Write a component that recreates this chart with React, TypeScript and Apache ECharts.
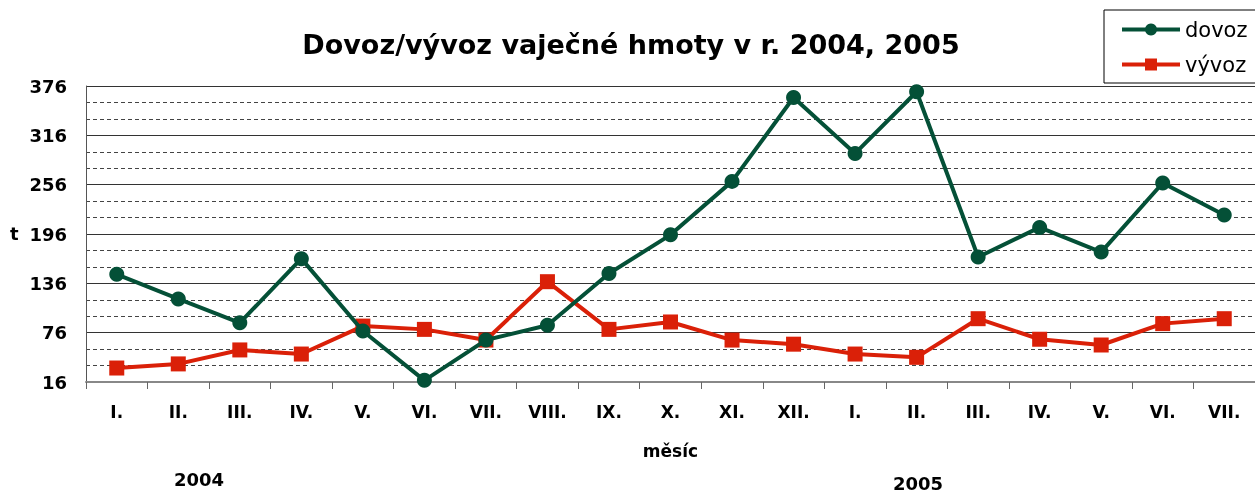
import React, { useEffect, useRef } from "react";
import * as echarts from "echarts";

const months = ["I.", "II.", "III.", "IV.", "V.", "VI.", "VII.", "VIII.", "IX.", "X.", "XI.", "XII.", "I.", "II.", "III.", "IV.", "V.", "VI.", "VII."];
const dovoz = [147, 117, 88, 166, 78, 18, 67, 85, 148, 195, 260, 362, 294, 369, 168, 204, 174, 258, 219];
const vyvoz = [33, 38, 55, 50, 84, 80, 67, 138, 80, 89, 67, 62, 50, 46, 93, 68, 61, 87, 93];
const yearLabels = ["2004", "2005"];

const FONT = "DejaVu Sans";

export default function App() {
  const ref = useRef<HTMLDivElement>(null);
  useEffect(() => {
    if (!ref.current) return;
    const chart = echarts.init(ref.current, null, { renderer: "svg" });
    chart.setOption({
      animation: false,
      textStyle: { fontFamily: FONT },
      title: {
        text: "Dovoz/vývoz vaječné hmoty v r. 2004, 2005",
        left: 626,
        textAlign: "center",
        top: 26,
        textStyle: { fontFamily: FONT, fontSize: 27, fontWeight: "bold", color: "#000" },
      },
      legend: {
        orient: "vertical",
        left: 1104,
        top: 10,
        padding: [9, 24, 8, 16],
        itemGap: 14,
        itemWidth: 58,
        itemHeight: 15,
        borderColor: "#000",
        borderWidth: 1,
        lineStyle: { width: 4 },
        textStyle: { fontFamily: FONT, fontSize: 21, color: "#000" },
        data: ["dovoz", "vývoz"],
      },
      grid: { left: 86, right: 0, top: 86, bottom: 111, containLabel: false },
      xAxis: {
        type: "category",
        data: months,
        boundaryGap: true,
        axisLine: { lineStyle: { color: "#888", width: 2 } },
        axisTick: { show: true, length: 7, interval: 0, lineStyle: { color: "#666", width: 1 } },
        axisLabel: { interval: 0, margin: 21, fontFamily: FONT, fontSize: 17, fontWeight: "bold", color: "#000" },
        name: "měsíc",
        nameLocation: "middle",
        nameGap: 60,
        nameTextStyle: { fontFamily: FONT, fontSize: 17, fontWeight: "bold", color: "#000" },
      },
      yAxis: {
        type: "value",
        min: 16,
        max: 376,
        interval: 60,
        axisLine: { show: true, lineStyle: { color: "#555", width: 1 } },
        axisTick: { show: false },
        axisLabel: { margin: 19, fontFamily: FONT, fontSize: 18, fontWeight: "bold", color: "#000" },
        splitLine: { show: true, lineStyle: { color: "#333", width: 1 } },
        minorTick: { show: false, splitNumber: 3 },
        minorSplitLine: { show: true, lineStyle: { color: "#444", width: 1, type: [4, 3] } },
      },
      graphic: [
        { type: "text", left: 10, top: 224, style: { text: "t", fontFamily: FONT, fontSize: 18, fontWeight: "bold", fill: "#000" } },
        { type: "text", left: 174, top: 470, style: { text: yearLabels[0], fontFamily: FONT, fontSize: 18, fontWeight: "bold", fill: "#000" } },
        { type: "text", left: 893, top: 474, style: { text: yearLabels[1], fontFamily: FONT, fontSize: 18, fontWeight: "bold", fill: "#000" } },
      ],
      series: [
        {
          name: "dovoz",
          type: "line",
          data: dovoz,
          symbol: "circle",
          symbolSize: 15,
          lineStyle: { color: "#045037", width: 4 },
          itemStyle: { color: "#045037" },
          z: 3,
        },
        {
          name: "vývoz",
          type: "line",
          data: vyvoz,
          symbol: "rect",
          symbolSize: 15,
          lineStyle: { color: "#da2008", width: 4 },
          itemStyle: { color: "#da2008" },
          z: 2,
        },
      ],
    });
    return () => chart.dispose();
  }, []);
  return <div ref={ref} style={{ position: "fixed", left: 0, top: 0, width: 1255, height: 493 }} />;
}
